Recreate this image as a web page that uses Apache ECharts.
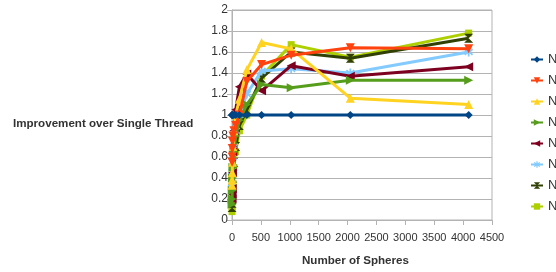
<!DOCTYPE html>
<html><head><meta charset="utf-8">
<script src="https://cdn.jsdelivr.net/npm/echarts@6/dist/echarts.min.js"></script>
<style>html,body{margin:0;padding:0;background:#fff}#c{width:556px;height:272px}</style>
</head><body><div id="c"></div>
<script>
var spheres = [1, 2, 4, 8, 16, 32, 64, 128, 256, 512, 1024, 2048, 4096];
var seriesNames = ['N=1', 'N=2', 'N=4', 'N=8', 'N=16', 'N=32', 'N=64', 'N=128'];
var s1 = [1, 1, 1, 1, 1, 1, 1, 1, 1, 1, 1, 1, 1];
var s2 = [0.55, 0.6, 0.68, 0.75, 0.8, 0.85, 0.9, 1.0, 1.32, 1.48, 1.57, 1.64, 1.63];
var s3 = [0.33, 0.38, 0.45, 0.55, 0.7, 0.85, 1.0, 1.15, 1.43, 1.69, 1.63, 1.16, 1.10];
var s4 = [0.15, 0.2, 0.28, 0.4, 0.5, 0.65, 0.8, 0.95, 1.1, 1.29, 1.26, 1.33, 1.33];
var s5 = [0.2, 0.25, 0.3, 0.45, 0.65, 0.85, 1.05, 1.27, 1.39, 1.23, 1.47, 1.37, 1.46];
var s6 = [0.3, 0.35, 0.42, 0.5, 0.6, 0.7, 0.85, 1.0, 1.2, 1.42, 1.44, 1.40, 1.60];
var s7 = [0.12, 0.16, 0.22, 0.3, 0.4, 0.55, 0.7, 0.9, 1.05, 1.35, 1.60, 1.54, 1.73];
var s8 = [0.08, 0.12, 0.18, 0.25, 0.35, 0.5, 0.65, 0.85, 1.0, 1.37, 1.67, 1.55, 1.78];
var allValues = [s1, s2, s3, s4, s5, s6, s7, s8];

var colors = ['#004586', '#ff420e', '#ffd320', '#579d1c', '#7e0021', '#83caff', '#314004', '#aecf00'];
var symbols = ['diamond', 'triangle', 'triangle', 'triangle', 'triangle',
  'path://M4,0H6V3.6L8.6,1L10,2.4L7.4,5L10,7.6L8.6,9L6,6.4V10H4V6.4L1.4,9L0,7.6L2.6,5L0,2.4L1.4,1L4,3.6Z',
  'path://M0,0L10,0L5,5L10,10L0,10L5,5Z',
  'rect'];
var rotates = [0, 180, 0, -90, 90, 0, 0, 0];
var sizes = [8, 9, 9, 9, 9, 9, 9, 7];

var series = allValues.map(function (vals, i) {
  return {
    name: seriesNames[i],
    type: 'line',
    data: spheres.map(function (x, j) { return [x, vals[j]]; }),
    symbol: symbols[i],
    symbolRotate: rotates[i],
    symbolSize: sizes[i],
    showAllSymbol: true,
    lineStyle: { width: 3, color: colors[i] },
    itemStyle: { color: colors[i] },
    z: 10 - i
  };
});

var chart = echarts.init(document.getElementById('c'), null, { renderer: 'canvas' });
chart.setOption({
  animation: false,
  color: colors,
  grid: { left: 232, right: 64, top: 10, bottom: 52, containLabel: false, show: true, borderColor: '#b3b3b3', borderWidth: 1 },
  legend: {
    orient: 'vertical', left: 530, top: 53, padding: 0,
    itemWidth: 12, itemHeight: 8, itemGap: 8,
    textStyle: { fontFamily: 'Liberation Sans', fontSize: 13, color: '#333', overflow: 'none' },
    data: seriesNames
  },
  xAxis: {
    type: 'value', min: 0, max: 4500, interval: 500,
    axisLine: { show: true, lineStyle: { color: '#b3b3b3' } },
    axisTick: { show: true, length: 5, lineStyle: { color: '#b3b3b3' } },
    splitLine: { show: false },
    axisLabel: { fontFamily: 'Liberation Sans', fontSize: 11, color: '#333', margin: 12,
      formatter: function (v) { return String(v); } }
  },
  yAxis: {
    type: 'value', min: 0, max: 2, interval: 0.2,
    axisLine: { show: true, lineStyle: { color: '#b3b3b3' } },
    axisTick: { show: true, length: 5, lineStyle: { color: '#b3b3b3' } },
    splitLine: { show: true, lineStyle: { color: '#b3b3b3' } },
    axisLabel: { fontFamily: 'Liberation Sans', fontSize: 12, color: '#333', margin: 4,
      formatter: function (v) { return String(Math.round(v * 10) / 10); } }
  },
  graphic: [
    { type: 'text', left: 13, top: 118, style: { text: 'Improvement over Single Thread', font: 'bold 11.6px "Liberation Sans"', fill: '#333' } },
    { type: 'text', left: 302, top: 255, style: { text: 'Number of Spheres', font: 'bold 11.6px "Liberation Sans"', fill: '#333' } }
  ],
  series: series
});
</script>
</body></html>
